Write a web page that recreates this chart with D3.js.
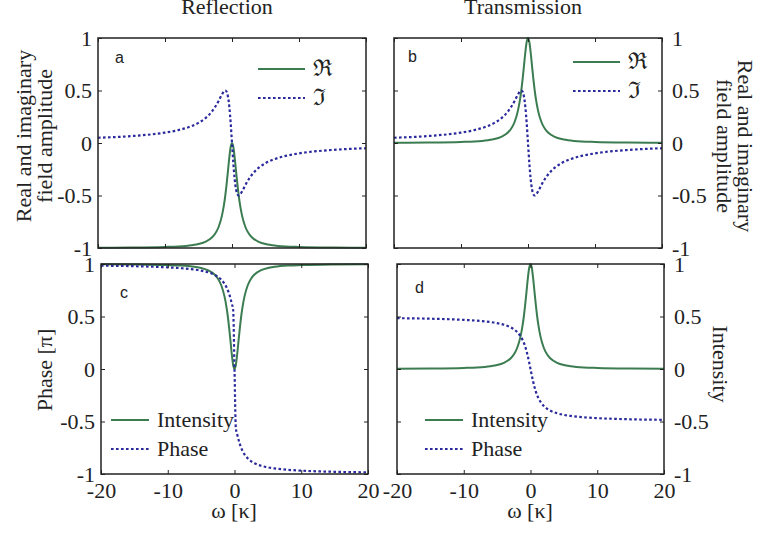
<!DOCTYPE html>
<html>
<head>
<meta charset="utf-8">
<script src="https://cdn.jsdelivr.net/npm/d3@7"></script>
<style>
  body { margin: 0; background: #fff; }
  svg { display: block; }
</style>
</head>
<body>
<div id="chart"></div>
<script>
// detuning samples (units of kappa)
var omega = [-20,-15,-10,-8,-6,-5,-4,-3,-2.5,-2,-1.5,-1.2,-1,-0.8,-0.6,-0.4,-0.2,0,
             0.2,0.4,0.6,0.8,1,1.2,1.5,2,2.5,3,4,5,6,8,10,15,20];

// a: reflection field
var reflReal = [-0.998,-0.996,-0.990,-0.985,-0.973,-0.962,-0.941,-0.900,-0.862,-0.800,-0.692,-0.590,-0.500,-0.390,-0.265,-0.138,-0.038,0.000,
                -0.038,-0.138,-0.265,-0.390,-0.500,-0.590,-0.692,-0.800,-0.862,-0.900,-0.941,-0.962,-0.973,-0.985,-0.990,-0.996,-0.998];
var reflImag = [0.050,0.066,0.099,0.123,0.162,0.192,0.235,0.300,0.345,0.400,0.462,0.492,0.500,0.488,0.441,0.345,0.192,0.000,
                -0.192,-0.345,-0.441,-0.488,-0.500,-0.492,-0.462,-0.400,-0.345,-0.300,-0.235,-0.192,-0.162,-0.123,-0.099,-0.066,-0.050];

// b: transmission field
var transReal = [0.002,0.004,0.010,0.015,0.027,0.038,0.059,0.100,0.138,0.200,0.308,0.410,0.500,0.610,0.735,0.862,0.962,1.000,
                 0.962,0.862,0.735,0.610,0.500,0.410,0.308,0.200,0.138,0.100,0.059,0.038,0.027,0.015,0.010,0.004,0.002];
var transImag = [0.050,0.066,0.099,0.123,0.162,0.192,0.235,0.300,0.345,0.400,0.462,0.492,0.500,0.488,0.441,0.345,0.192,0.000,
                 -0.192,-0.345,-0.441,-0.488,-0.500,-0.492,-0.462,-0.400,-0.345,-0.300,-0.235,-0.192,-0.162,-0.123,-0.099,-0.066,-0.050];

// c: reflection intensity and phase
var reflIntensity = [0.998,0.996,0.990,0.985,0.973,0.962,0.941,0.900,0.862,0.800,0.692,0.590,0.500,0.390,0.265,0.138,0.038,0.000,
                     0.038,0.138,0.265,0.390,0.500,0.590,0.692,0.800,0.862,0.900,0.941,0.962,0.973,0.985,0.990,0.996,0.998];
var reflPhase = [0.984,0.979,0.968,0.960,0.947,0.937,0.922,0.898,0.879,0.852,0.813,0.779,0.750,0.715,0.672,0.621,0.563,0.000,
                 -0.563,-0.621,-0.672,-0.715,-0.750,-0.779,-0.813,-0.852,-0.879,-0.898,-0.922,-0.937,-0.947,-0.960,-0.968,-0.979,-0.984];

// d: transmission intensity and phase
var transIntensity = [0.002,0.004,0.010,0.015,0.027,0.038,0.059,0.100,0.138,0.200,0.308,0.410,0.500,0.610,0.735,0.862,0.962,1.000,
                      0.962,0.862,0.735,0.610,0.500,0.410,0.308,0.200,0.138,0.100,0.059,0.038,0.027,0.015,0.010,0.004,0.002];
var transPhase = [0.484,0.479,0.468,0.460,0.447,0.437,0.422,0.398,0.379,0.352,0.313,0.279,0.250,0.215,0.172,0.121,0.063,0.000,
                  -0.063,-0.121,-0.172,-0.215,-0.250,-0.279,-0.313,-0.352,-0.379,-0.398,-0.422,-0.437,-0.447,-0.460,-0.468,-0.479,-0.484];

var xTicks = [-20, -10, 0, 10, 20];
var yTicks = [-1, -0.5, 0, 0.5, 1];

var green = "#3c7c51", blue = "#2a2a9c", ink = "#222";
var serif = "'Liberation Serif', 'Times New Roman', serif";
var sans = "'Liberation Sans', Arial, sans-serif";

var svg = d3.select("#chart").append("svg")
  .attr("width", 762)
  .attr("height", 533);

var panels = [
  { id: "a", box: [98, 366, 38, 248], solid: reflReal, dotted: reflImag, yLabels: "left", xLabels: false,
    letter: [115, 63], legend: { x: 258, y: 69, names: ["\u211C", "\u2111"], symbol: true } },
  { id: "b", box: [394, 662, 38, 248], solid: transReal, dotted: transImag, yLabels: "right", xLabels: false,
    letter: [408, 62], legend: { x: 573, y: 62, names: ["\u211C", "\u2111"], symbol: true } },
  { id: "c", box: [101, 368, 264, 474], solid: reflIntensity, dotted: reflPhase, yLabels: "left", xLabels: true,
    letter: [120, 298], legend: { x: 111, y: 420, names: ["Intensity", "Phase"], symbol: false } },
  { id: "d", box: [397, 664, 264, 474], solid: transIntensity, dotted: transPhase, yLabels: "right", xLabels: true,
    letter: [415, 293], legend: { x: 425, y: 420, names: ["Intensity", "Phase"], symbol: false } }
];

panels.forEach(function(p) {
  var x = d3.scaleLinear().domain([-20, 20]).range([p.box[0], p.box[1]]);
  var y = d3.scaleLinear().domain([-1, 1]).range([p.box[3], p.box[2]]);
  var g = svg.append("g");

  var line = d3.line()
    .x(function(d, i) { return x(omega[i]); })
    .y(function(d) { return y(d); })
    .curve(d3.curveMonotoneX);

  g.append("path")
    .attr("d", line(p.solid))
    .attr("fill", "none")
    .attr("stroke", green)
    .attr("stroke-width", 2);

  g.append("path")
    .attr("d", line(p.dotted))
    .attr("fill", "none")
    .attr("stroke", blue)
    .attr("stroke-width", 2.2)
    .attr("stroke-dasharray", "2.6,2.4");

  // ticks on all four sides, pointing inward
  var fmt = function(d) { return String(d); };
  var none = function() { return ""; };
  var axes = [
    { ax: d3.axisLeft(y).tickValues(yTicks).tickSize(-4).tickPadding(6).tickFormat(p.yLabels == "left" ? fmt : none), t: "translate(" + p.box[0] + ",0)" },
    { ax: d3.axisRight(y).tickValues(yTicks).tickSize(-4).tickPadding(10).tickFormat(p.yLabels == "right" ? fmt : none), t: "translate(" + p.box[1] + ",0)" },
    { ax: d3.axisTop(x).tickValues(xTicks).tickSize(-4).tickFormat(none), t: "translate(0," + p.box[2] + ")" },
    { ax: d3.axisBottom(x).tickValues(xTicks).tickSize(-4).tickPadding(8).tickFormat(p.xLabels ? fmt : none), t: "translate(0," + p.box[3] + ")" }
  ];
  axes.forEach(function(a) {
    var ag = g.append("g")
      .attr("transform", a.t)
      .style("color", ink)
      .call(a.ax);
    ag.select(".domain").remove();
    ag.selectAll(".tick line").attr("stroke-width", 1);
    ag.selectAll(".tick text")
      .style("font-family", serif)
      .style("font-size", "22px")
      .style("fill", ink);
  });

  g.append("rect")
    .attr("x", p.box[0])
    .attr("y", p.box[2])
    .attr("width", p.box[1] - p.box[0])
    .attr("height", p.box[3] - p.box[2])
    .attr("fill", "none")
    .attr("stroke", ink)
    .attr("stroke-width", 1.5);

  // panel letter
  g.append("text")
    .attr("x", p.letter[0])
    .attr("y", p.letter[1])
    .style("font-family", sans)
    .style("font-size", "16px")
    .style("fill", ink)
    .text(p.id);

  // legend
  var L = p.legend;
  var lineLen = L.symbol ? 47 : 38;
  [0, 1].forEach(function(k) {
    var ly = L.y + k * 29;
    g.append("line")
      .attr("x1", L.x).attr("x2", L.x + lineLen)
      .attr("y1", ly).attr("y2", ly)
      .attr("stroke", k == 0 ? green : blue)
      .attr("stroke-width", k == 0 ? 2 : 2.2)
      .attr("stroke-dasharray", k == 0 ? null : "2.6,2.4");
    g.append("text")
      .attr("x", L.x + lineLen + 8)
      .attr("y", ly + (L.symbol ? 7 : 7))
      .style("font-family", L.symbol ? "'DejaVu Serif', serif" : serif)
      .style("font-size", L.symbol ? "23px" : "22px")
      .style("fill", ink)
      .text(L.names[k]);
  });
});

// column titles
svg.append("text").attr("x", 227).attr("y", 14).attr("text-anchor", "middle")
  .style("font-family", serif).style("font-size", "22px").style("fill", ink).text("Reflection");
svg.append("text").attr("x", 523).attr("y", 14).attr("text-anchor", "middle")
  .style("font-family", serif).style("font-size", "22px").style("fill", ink).text("Transmission");

// x axis titles
svg.append("text").attr("x", 234).attr("y", 518).attr("text-anchor", "middle")
  .style("font-family", serif).style("font-size", "22px").style("fill", ink).text("\u03C9 [\u03BA]");
svg.append("text").attr("x", 530).attr("y", 518).attr("text-anchor", "middle")
  .style("font-family", serif).style("font-size", "22px").style("fill", ink).text("\u03C9 [\u03BA]");

// y axis titles
function sideLabel(x, y, angle, txt) {
  svg.append("text")
    .attr("transform", "translate(" + x + "," + y + ") rotate(" + angle + ")")
    .attr("text-anchor", "middle")
    .style("font-family", serif)
    .style("font-size", "22px")
    .style("fill", ink)
    .text(txt);
}
sideLabel(31, 136, -90, "Real and imaginary");
sideLabel(52, 136, -90, "field amplitude");
sideLabel(52, 370, -90, "Phase [\u03C0]");
sideLabel(738, 146, 90, "Real and imaginary");
sideLabel(717, 146, 90, "field amplitude");
sideLabel(713, 364, 90, "Intensity");
</script>
</body>
</html>
